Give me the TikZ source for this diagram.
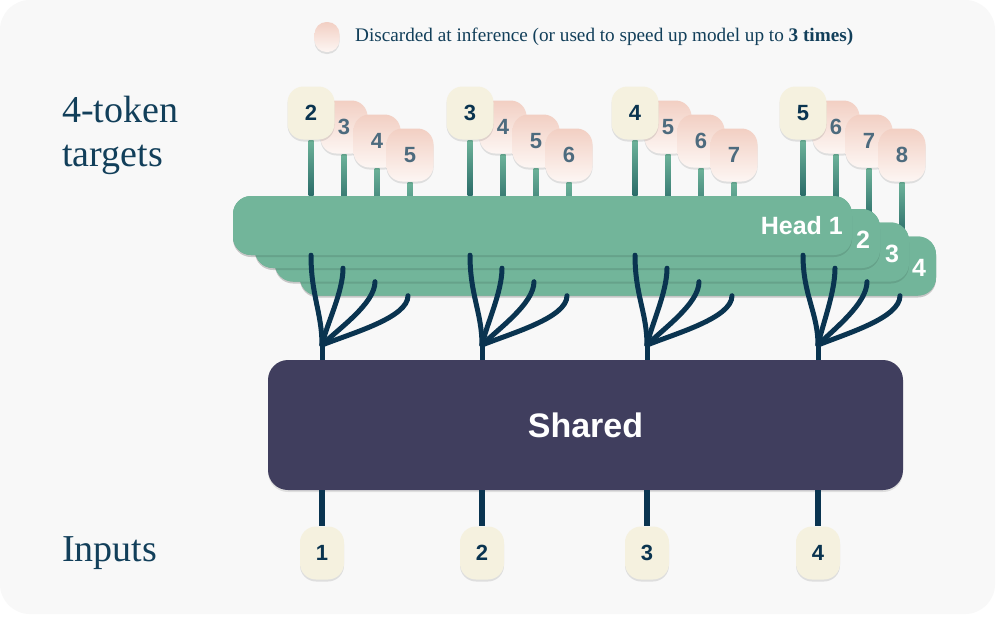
\documentclass[tikz,border=0pt]{standalone}
\usepackage{fontspec}
\setmainfont{Liberation Serif}
\newfontfamily\numfont{Liberation Sans}
\usetikzlibrary{shadows,calc}
\definecolor{bgc}{HTML}{F8F8F8}
\definecolor{navy}{HTML}{0A3450}
\definecolor{txtc}{HTML}{123F5A}
\definecolor{headc}{HTML}{72B59A}
\definecolor{stemtop}{HTML}{6DB39A}
\definecolor{stembot}{HTML}{2A6B68}
\definecolor{cream}{HTML}{F5F1DF}
\definecolor{pinktop}{HTML}{F2CFC3}
\definecolor{pinkbot}{HTML}{FDF6F3}
\definecolor{pinknum}{HTML}{4D6B7E}
\definecolor{sharedc}{HTML}{403E5E}
\tikzset{
  softshadow/.style={drop shadow={shadow xshift=0pt,shadow yshift=-2pt,opacity=0.10,fill=black}},
  creambox/.style={rounded corners=16pt, minimum width=47pt, minimum height=53pt, fill=cream, inner sep=0pt,
     text=navy, font=\numfont\bfseries\fontsize{22}{22}\selectfont, softshadow},
  pinkbox/.style={rounded corners=16pt, minimum width=47pt, minimum height=53pt, top color=pinktop, bottom color=pinkbot,
     inner sep=0pt, text=pinknum, font=\numfont\bfseries\fontsize{22}{22}\selectfont, softshadow},
  headbox/.style={rounded corners=18pt, fill=headc, minimum height=59pt, inner sep=0pt, softshadow},
  headlbl/.style={text=white, font=\numfont\bfseries\fontsize{25}{25}\selectfont, inner sep=0pt},
  tree/.style={draw=navy, line width=5pt, line cap=round},
  inline/.style={draw=navy, line width=6pt},
  serifbig/.style={text=txtc, font=\fontsize{38}{44}\selectfont, align=left, inner sep=0pt},
}
\begin{document}
\begin{tikzpicture}[x=1pt,y=-1pt]
\useasboundingbox (0,0) rectangle (1008,640);
\fill[white] (0,0) rectangle (1008,640);
\fill[bgc, rounded corners=30pt] (0,0) rectangle (995,614);

% legend
\node[rounded corners=12pt, minimum width=25pt, minimum height=30pt, top color=pinktop, bottom color=pinkbot, inner sep=0pt, softshadow] (leg) at (327,37) {};
\node[anchor=west, text=txtc, font=\fontsize{19.2}{22}\selectfont, inner sep=0pt] (legtxt) at (355,37) {Discarded at inference (or used to speed up model up to \textbf{3 times)}};

% left labels
\node[serifbig, anchor=west] (tgt) at (62,135) {4-token\\targets};
\node[serifbig, anchor=west] (inp) at (62,553) {Inputs};

% heads (positions)
\path (542.5,225.5) node[headbox, minimum width=619pt] (h1) {};
\path (567.5,238.5) node[headbox, minimum width=625pt] (h2) {};
\path (592,252) node[headbox, minimum width=634pt] (h3) {};
\path (618,266) node[headbox, minimum width=636pt] (h4) {};

% stems (drawn behind heads)
\foreach \t/\n [count=\g from 0] in {311/2,470/3,635/4,803/5}{
  \foreach \k in {0,1,2,3}{
    \pgfmathtruncatemacro{\hk}{\k+1}
    \pgfmathsetmacro{\sx}{\t+33*\k}
    \pgfmathsetmacro{\sy}{140+14*\k}
    \shade[top color=stemtop, bottom color=stembot] (\sx-2.5,\sy) rectangle (\sx+2.5,\sy |- h\hk.north);
  }
}

% redraw heads on top, from back to front
\node[headbox, minimum width=636pt] at (h4) {};
\node[headbox, minimum width=634pt] at (h3) {};
\node[headbox, minimum width=625pt] at (h2) {};
\node[headbox, minimum width=619pt] at (h1) {};
\node[headlbl, anchor=east] (l1) at (843,226) {Head 1};
\node[headlbl] (l2) at (863,240) {2};
\node[headlbl] (l3) at (892,254) {3};
\node[headlbl] (l4) at (919,268) {4};

% target boxes
\foreach \t/\n [count=\g] in {311/2,470/3,635/4,803/5}{
  \foreach \k in {1,2,3}{
    \pgfmathtruncatemacro{\lab}{\n+\k}
    \node[pinkbox] (t\g\k) at (\t+33*\k, 113+14*\k) {\raisebox{-2pt}{\lab}};
  }
  \node[creambox] (t\g0) at (\t,113) {\n};
}

% shared block
\node[rounded corners=20pt, fill=sharedc, minimum width=635pt, minimum height=130pt, softshadow,
      text=white, font=\numfont\bfseries\fontsize{34}{34}\selectfont] (shared) at (585.5,425) {Shared};

% trees
\foreach \t/\b [count=\g] in {311/322,470/482,635/647,803/818}{
  \coordinate (m\g) at (\b,345);
  \draw[tree] (\t,0 |- h1.south) .. controls +(0,40) and +(0,-32) .. (m\g);
  \draw[tree] (\t+32,0 |- h2.south) .. controls +(0,24) and +(5,-22) .. (m\g);
  \draw[tree] (\t+64,0 |- h3.south) .. controls +(0,22) and +(16,-16) .. (m\g);
  \draw[tree] (\t+97,0 |- h4.south) .. controls +(0,22) and +(30,-12) .. (m\g);
  \draw[tree, line cap=butt] (m\g) -- (\b,0 |- shared.north);
}

% inputs
\foreach \b/\n in {322/1,482/2,647/3,818/4}{
  \node[creambox, minimum width=44pt] (in\n) at (\b,553) {\n};
  \draw[inline] (in\n.north |- shared.south) -- (in\n.north);
}
\end{tikzpicture}
\end{document}
